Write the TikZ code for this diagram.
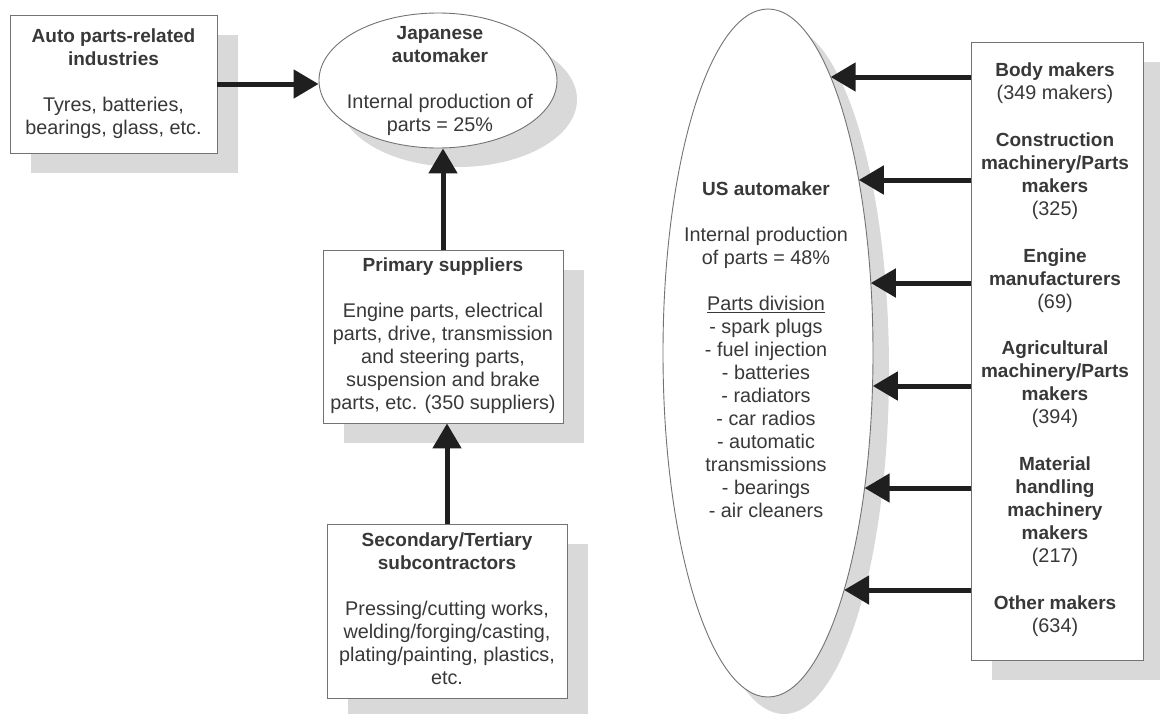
\documentclass[tikz,border=0pt]{standalone}
\usepackage{fontspec}
\setmainfont{Liberation Sans}
\usetikzlibrary{arrows.meta,shapes.geometric,shadows}
\newcommand\hd[1]{{\fontsize{19}{23}\selectfont\bfseries #1}}
\begin{document}
\begin{tikzpicture}[x=1pt,y=-1pt,
  box/.style={draw=black!55, line width=0.9pt, fill=white, inner sep=0pt,
    drop shadow={shadow xshift=21pt, shadow yshift=-20pt, fill=black!15, opacity=1}},
  ell/.style={ellipse, draw=black!55, line width=0.9pt, fill=white, inner sep=0pt},
  txt/.style={align=center, inner sep=0pt, text=black!78, font=\fontsize{19.8}{23}\selectfont},
  arr/.style={line width=5pt, draw=black!88, -{Triangle[length=25pt,width=28pt]}}
]
\useasboundingbox (0,0) rectangle (1160,713);
\fill[white] (0,0) rectangle (1160,713);
\clip (0,0) rectangle (1160,713);

% left column
\node[box, minimum width=207pt, minimum height=138pt] (lb) at (113.5,84) {};
\node[ell, minimum width=238pt, minimum height=135pt,
  drop shadow={shadow xshift=20pt, shadow yshift=-19pt, fill=black!15, opacity=1}] (jp) at (438,80.5) {};
\node[box, minimum width=240pt, minimum height=173pt] (pr) at (443,336.5) {};
\node[box, minimum width=240pt, minimum height=174pt] (sc) at (447,611) {};

% right column
\node[ell, minimum width=210pt, minimum height=688pt,
  drop shadow={shadow xshift=16pt, shadow yshift=-17pt, fill=black!15, opacity=1}] (us) at (768,353) {};
\node[box, minimum width=172pt, minimum height=618pt] (rb) at (1057,351) {};

% texts
\node[txt] (lbt) at (113.5,83.5) {\hd{Auto parts-related}\\\hd{industries}\\[23pt]Tyres, batteries,\\bearings, glass, etc.};
\node[txt] (jpt) at (440,81) {\hd{Japanese}\\\hd{automaker}\\[23pt]Internal production of\\parts = 25\%};
\node[txt] (prt) at (443,336) {\hd{Primary suppliers}\\[23pt]Engine parts, electrical\\parts, drive, transmission\\and steering parts,\\suspension and brake\\parts, etc. (350 suppliers)};
\node[txt] (sct) at (447,609) {\hd{Secondary/Tertiary}\\\hd{subcontractors}\\[23pt]Pressing/cutting works,\\welding/forging/casting,\\plating/painting, plastics,\\etc.};
\node[txt] (ust) at (766,350) {\hd{US automaker}\\[23pt]Internal production\\of parts = 48\%\\[23pt]\underline{Parts division}\\- spark plugs\\- fuel injection\\- batteries\\- radiators\\- car radios\\- automatic\\transmissions\\- bearings\\- air cleaners};

\node[txt] (r1) at (1055,83) {\hd{Body makers}\\(349 makers)};
\node[txt] (r2) at (1055,176) {\hd{Construction}\\\hd{machinery/Parts}\\\hd{makers}\\(325)};
\node[txt] (r3) at (1055,281) {\hd{Engine}\\\hd{manufacturers}\\(69)};
\node[txt] (r4) at (1055,384.5) {\hd{Agricultural}\\\hd{machinery/Parts}\\\hd{makers}\\(394)};
\node[txt] (r5) at (1055,511.5) {\hd{Material}\\\hd{handling}\\\hd{machinery}\\\hd{makers}\\(217)};
\node[txt] (r6) at (1055,616.5) {\hd{Other makers}\\(634)};

% arrows (left)
\draw[arr] (lb.east) -- (lb.east -| jp.west);
\draw[arr] (pr.north) -- (pr.north |- jp.south);
\draw[arr] (sc.north) -- (sc.north |- pr.south);

% arrows (right) ending on the US ellipse border
\coordinate (t1) at (830.7,77);
\coordinate (t2) at (858.8,180);
\coordinate (t3) at (870.8,283);
\coordinate (t4) at (872.8,386);
\coordinate (t5) at (864.6,488);
\coordinate (t6) at (844.1,590);
\foreach \i in {1,...,6}{\draw[arr] (rb.west |- t\i) -- (t\i);}
\end{tikzpicture}
\end{document}
